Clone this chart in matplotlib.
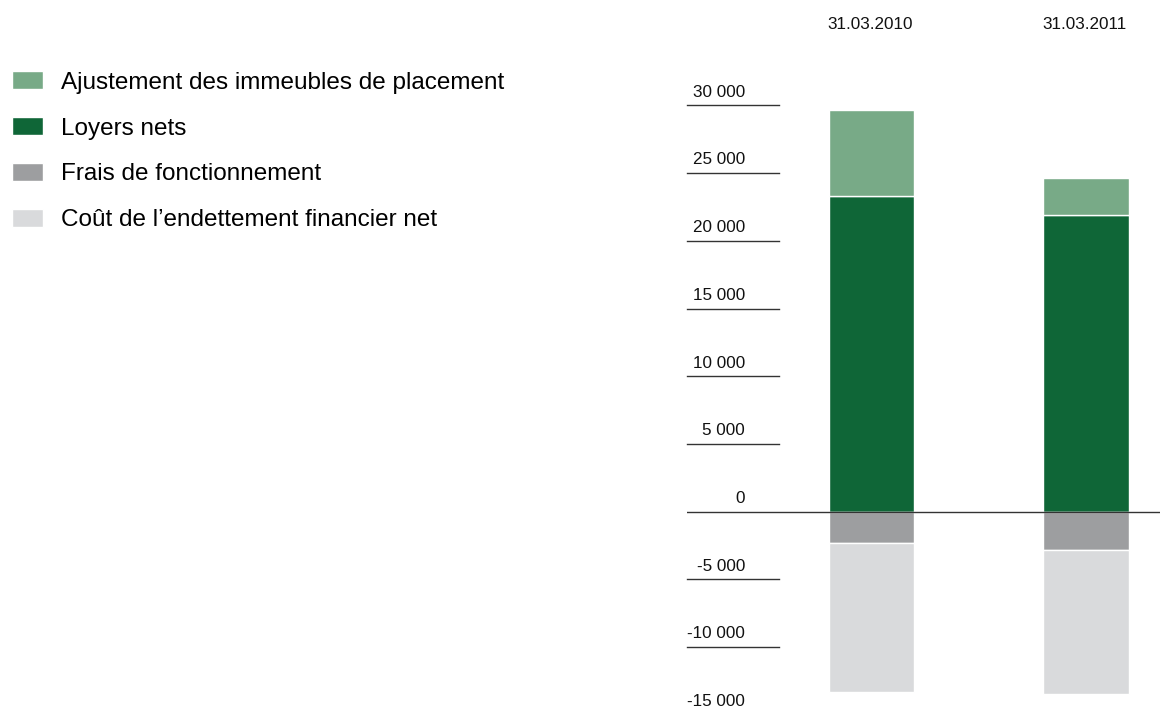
import matplotlib.pyplot as plt
import numpy as np

plt.rcParams['font.family'] = ['Liberation Sans', 'DejaVu Sans']

# data
dates = ["31.03.2010", "31.03.2011"]
ajustement = [6400, 2750]
loyers = [23300, 21900]
frais = [-2300, -2800]
endettement = [-11000, -10700]

series_names = ["Ajustement des immeubles de placement", "Loyers nets",
                "Frais de fonctionnement", "Coût de l\u2019endettement financier net"]
colors = ["#78aa87", "#0f6637", "#9d9ea0", "#d9dadc"]

yticks = [30000, 25000, 20000, 15000, 10000, 5000, 0, -5000, -10000, -15000]
ytick_labels = ["30 000", "25 000", "20 000", "15 000", "10 000", "5 000", "0",
                "-5 000", "-10 000", "-15 000"]

W, H = 1160, 711
fig = plt.figure(figsize=(W / 100, H / 100), dpi=100)

# axes spans from x=687px to the right edge, full height
ax = fig.add_axes([687 / W, 0, 1 - 687 / W, 1])
ax.set_ylim(-14720, 37790)
ax.set_xlim(-0.862, 1.345)
ax.axis("off")

x = np.arange(len(dates))
w = 0.399
ax.bar(x, loyers, w, color=colors[1], edgecolor="white", linewidth=1, label=series_names[1])
ax.bar(x, ajustement, w, bottom=loyers, color=colors[0], edgecolor="white", linewidth=1,
       label=series_names[0])
ax.bar(x, frais, w, color=colors[2], edgecolor="white", linewidth=1, label=series_names[2])
ax.bar(x, endettement, w, bottom=frais, color=colors[3], edgecolor="white", linewidth=1,
       label=series_names[3])

# custom y "ticks": short rule under each label
trans = ax.get_yaxis_transform()
for v, lab in zip(yticks, ytick_labels):
    if v == 0:
        ax.plot([0, 1], [v, v], color="#333333", lw=1.0, transform=trans, zorder=5)
    else:
        ax.plot([0, 0.1945], [v, v], color="#333333", lw=1.0, transform=trans, clip_on=False)
    ax.annotate(lab, (0.1226, v), xycoords=trans, xytext=(0, 9.5), textcoords="offset points",
                ha="right", va="center", fontsize=12.3, color="#111111")

# column headers
for xi, d in zip(x, dates):
    ax.annotate(d, (xi, 1), xycoords=("data", "axes fraction"), xytext=(-1, -17.5),
                textcoords="offset points", ha="center", va="center", fontsize=12.3,
                color="#111111")

handles, labels = ax.get_legend_handles_labels()
order = [1, 0, 2, 3]
fig.legend([handles[i] for i in order], [labels[i] for i in order],
           loc="upper left", bbox_to_anchor=(12 / W, 1 - 71 / H), frameon=False,
           fontsize=17.5, handlelength=1.28, handleheight=0.78, handletextpad=0.74,
           labelspacing=0.96, borderpad=0, borderaxespad=0)

fig.savefig("out.png", dpi=100)
